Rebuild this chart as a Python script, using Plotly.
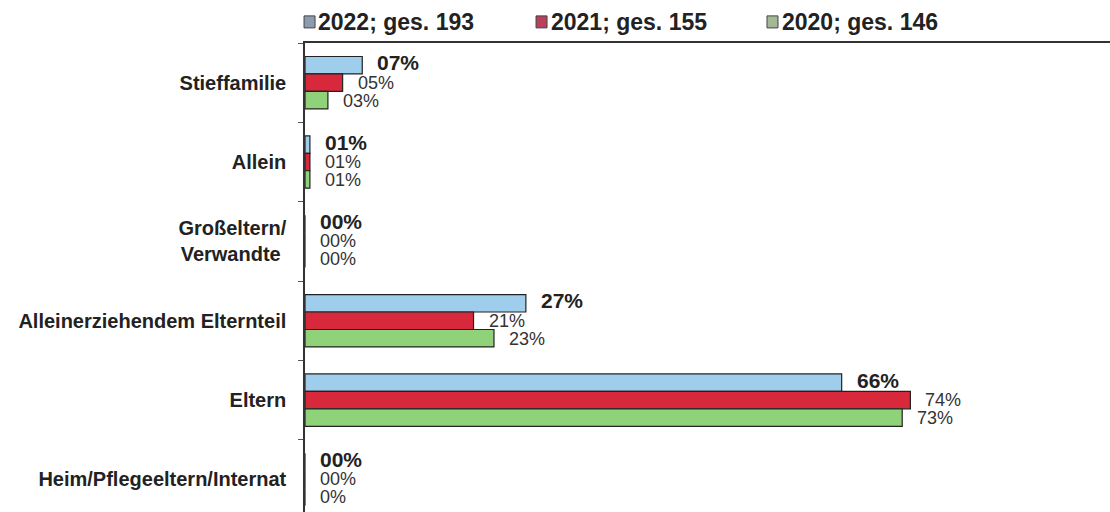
import plotly.graph_objects as go

categories = ["Stieffamilie", "Allein", "Großeltern/<br>Verwandte\u00a0",
              "Alleinerziehendem Elternteil", "Eltern", "Heim/Pflegeeltern/Internat"]
series_names = ["2022; ges. 193", "2021; ges. 155", "2020; ges. 146"]
values_2022 = [7, 0.6, 0, 27, 65.6, 0]
values_2021 = [4.6, 0.6, 0, 20.6, 74, 0]
values_2020 = [2.8, 0.6, 0, 23.1, 73, 0]
labels_2022 = ["07%", "01%", "00%", "27%", "66%", "00%"]
labels_2021 = ["05%", "01%", "00%", "21%", "74%", "00%"]
labels_2020 = ["03%", "01%", "00%", "23%", "73%", "0%"]
colors = ["#9fcdec", "#d8283c", "#8fd27a"]
legend_colors = ["#8a9cad", "#b8405a", "#a3b894"]
legend_sq_x = [-0.0012, 0.2870, 0.5739]
legend_txt_x = [0.0155, 0.3040, 0.5910]

fig = go.Figure()
all_vals = [values_2022, values_2021, values_2020]
all_labels = [labels_2022, labels_2021, labels_2020]
for name, vals, col in zip(series_names, all_vals, colors):
    fig.add_trace(go.Bar(
        y=categories, x=vals, name=name, orientation="h",
        marker=dict(color=col, line=dict(color="#222222", width=1.2)),
        hoverinfo="skip", showlegend=False,
    ))

yshifts = [20, 0, -18]
fonts = [dict(size=21, family="Liberation Sans", color="#222222", weight="bold"),
         dict(size=18, family="Liberation Sans", color="#333333"),
         dict(size=18, family="Liberation Sans", color="#333333")]
annotations = []
for vals, labs, ys, f in zip(all_vals, all_labels, yshifts, fonts):
    for cat, v, lab in zip(categories, vals, labs):
        annotations.append(dict(
            x=v, y=cat, xref="x", yref="y", text=lab, showarrow=False,
            xanchor="left", yanchor="middle", xshift=14, yshift=ys,
            font=f, borderpad=0,
        ))

shapes = []
for name, lc, sx, tx in zip(series_names, legend_colors, legend_sq_x, legend_txt_x):
    annotations.append(dict(
        x=tx, y=1.045, xref="paper", yref="paper", xanchor="left", yanchor="middle",
        showarrow=False, text=name, borderpad=0,
        font=dict(size=23, family="Liberation Sans", color="#222222", weight="bold"),
    ))
    shapes.append(dict(
        type="rect", xref="paper", yref="paper", xsizemode="pixel", ysizemode="pixel",
        xanchor=sx, yanchor=1.045, x0=0, x1=11, y0=-6, y1=6,
        fillcolor=lc, line=dict(color="#444444", width=1),
    ))

fig.update_layout(
    width=1110, height=512,
    margin=dict(l=305, r=0, t=43, b=0),
    paper_bgcolor="white", plot_bgcolor="white",
    barmode="group", bargap=0.34, bargroupgap=0,
    font=dict(family="Liberation Sans", color="#222222"),
    showlegend=False,
    annotations=annotations,
    shapes=shapes,
    xaxis=dict(range=[0, 98.4], side="top", showline=True, linecolor="#333333",
               linewidth=1.5, showgrid=False, zeroline=False,
               showticklabels=False, ticks=""),
    yaxis=dict(range=[5.41, -0.5], showline=True, linecolor="#333333", linewidth=1.5,
               showgrid=False, ticks="outside", tickson="boundaries", ticklen=5,
               tickcolor="#555555",
               tickfont=dict(size=20, family="Liberation Sans", color="#222222", weight="bold"),
               ticklabelstandoff=13),
)

fig.write_html("out.html")
